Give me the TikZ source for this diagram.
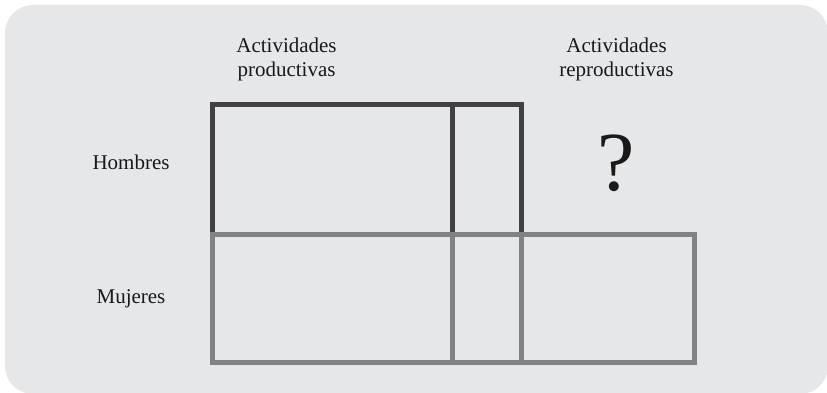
\documentclass[tikz,border=0pt]{standalone}
\usepackage{fontspec}
\setmainfont{Liberation Serif}
\definecolor{bgc}{RGB}{230,231,233}
\definecolor{darkln}{RGB}{65,65,67}
\definecolor{grayln}{RGB}{129,130,132}
\definecolor{txt}{RGB}{25,25,25}
\begin{document}
\begin{tikzpicture}[x=1pt,y=-1pt,
  lbl/.style={anchor=base, inner sep=0pt, text=txt, font=\fontsize{21}{24}\selectfont},
  darkbox/.style={draw=darkln, line width=5pt, line join=miter},
  graybox/.style={draw=grayln, line width=5pt, line join=miter}]
\useasboundingbox (0,0) rectangle (827,393);
\fill[bgc, rounded corners=28pt] (5,5) rectangle (828,394);
% coordinates
\coordinate (hA) at (212,104.5);
\coordinate (hB) at (452.5,104.5);
\coordinate (hC) at (521,104.5);
\coordinate (mA) at (212,234);
\coordinate (mB) at (452.5,234);
\coordinate (mC) at (521,234);
\coordinate (mD) at (694,234);
\coordinate (bA) at (212,362.5);
\coordinate (bB) at (452.5,362.5);
\coordinate (bC) at (521,362.5);
\coordinate (bD) at (694,362.5);
% men row (dark)
\draw[darkbox] (mA) -- (hA) -- (hC) -- (mC);
\draw[darkbox] (hB) -- (mB);
% women row (gray)
\draw[graybox] (mA) -- (mD) -- (bD) -- (bA) -- cycle;
\draw[graybox] (mB) -- (bB);
\draw[graybox] (mC) -- (bC);
% labels
\node[lbl] (prod1) at (286.5,53) {Actividades};
\node[lbl] (prod2) at (286.5,77) {productivas};
\node[lbl] (repr1) at (616.5,53) {Actividades};
\node[lbl] (repr2) at (616.5,77) {reproductivas};
\node[lbl] (hom) at (131,169.3) {Hombres};
\node[lbl] (muj) at (131,303.3) {Mujeres};
\node[anchor=base, inner sep=0pt, text=txt, font=\fontsize{84}{90}\selectfont] (q) at (616,190.7) {?};
\end{tikzpicture}
\end{document}
